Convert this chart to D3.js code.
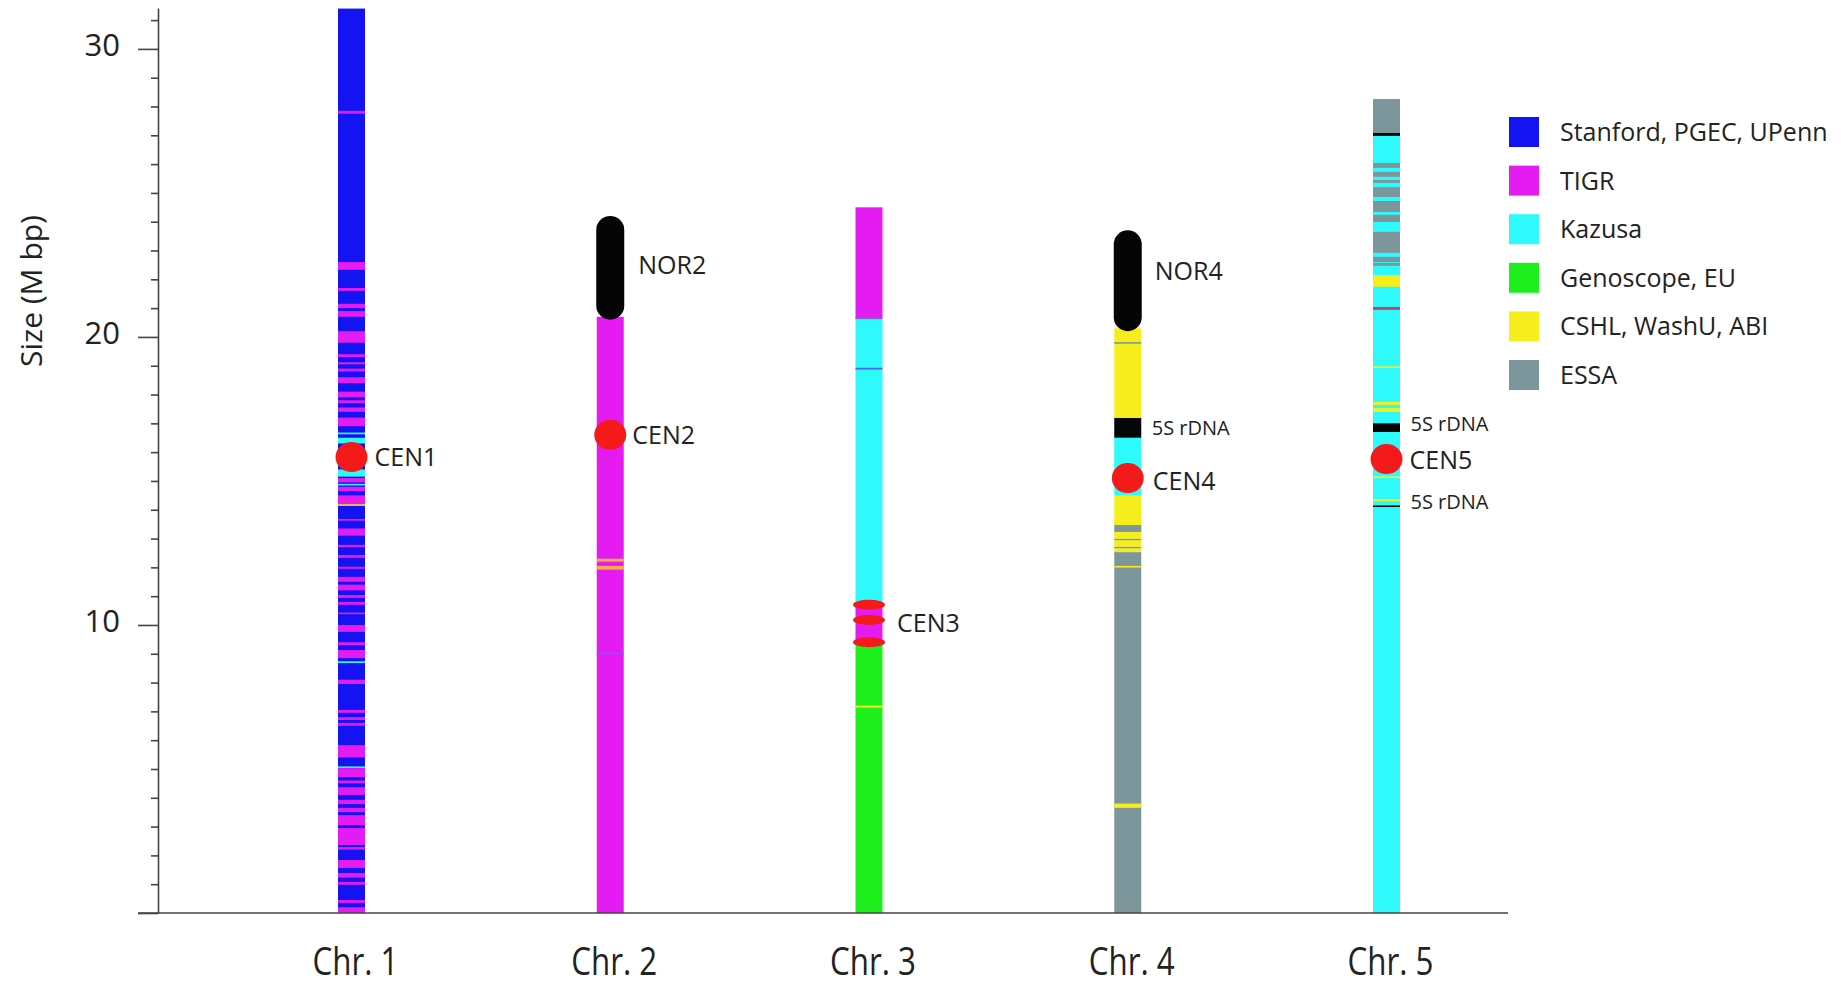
<!DOCTYPE html>
<html>
<head>
<meta charset="utf-8">
<script src="https://cdn.jsdelivr.net/npm/d3@7/dist/d3.min.js"></script>
<style>
  html, body { margin: 0; padding: 0; background: #ffffff; }
  svg { display: block; }
  text { font-family: "Open Sans", "Noto Sans", sans-serif; fill: #222; }
</style>
</head>
<body>
<svg id="chart" width="1841" height="988"></svg>
<script>
// ---------------- DATA ----------------
const categories = ["Chr. 1", "Chr. 2", "Chr. 3", "Chr. 4", "Chr. 5"];

const sources = ["Stanford, PGEC, UPenn", "TIGR", "Kazusa", "Genoscope, EU", "CSHL, WashU, ABI", "ESSA"];
const sourceCodes = ["S", "T", "K", "G", "C", "E"];

const majorTicks = [0, 10, 20, 30];
const minorTicks = [1,2,3,4,5,6,7,8,9,11,12,13,14,15,16,17,18,19,21,22,23,24,25,26,27,28,29,31];

// segments: [start Mb, end Mb, code]
const chr1Segments = [
  [0, 31.4, "S"],
  [27.75, 27.85, "T"], [22.33, 22.6, "T"], [21.6, 21.7, "T"], [21.0, 21.15, "T"],
  [20.7, 20.9, "T"], [19.8, 20.2, "T"], [19.3, 19.4, "T"], [19.05, 19.12, "T"],
  [18.8, 18.9, "T"], [18.4, 18.6, "T"], [17.9, 18.1, "T"], [17.7, 17.8, "T"],
  [17.4, 17.55, "T"], [16.9, 17.2, "T"],
  [16.62, 16.68, "K"], [16.3, 16.5, "K"], [15.15, 15.4, "K"],
  [14.95, 15.1, "T"], [14.85, 14.9, "K"], [14.65, 14.8, "T"], [14.2, 14.5, "T"], [14.13, 14.2, "O"],
  [13.62, 13.68, "T"], [13.1, 13.35, "T"], [12.7, 12.78, "T"], [12.33, 12.43, "T"],
  [11.95, 12.02, "T"], [11.5, 11.67, "T"], [11.2, 11.4, "T"], [10.94, 11.04, "T"],
  [10.7, 10.8, "T"], [10.38, 10.43, "T"], [9.76, 10.0, "T"], [9.3, 9.4, "T"],
  [8.85, 9.13, "T"], [8.68, 8.74, "K"], [7.95, 8.1, "T"],
  [6.95, 7.05, "T"], [6.7, 6.8, "T"], [6.5, 6.6, "T"], [5.4, 5.83, "T"],
  [5.05, 5.09, "K"], [4.72, 5.03, "T"], [4.5, 4.6, "T"], [4.1, 4.37, "T"],
  [3.78, 3.93, "T"], [3.5, 3.65, "T"], [3.05, 3.4, "T"], [2.36, 2.95, "T"],
  [2.2, 2.29, "T"], [1.56, 1.84, "T"], [1.23, 1.39, "T"], [0.98, 1.08, "T"],
  [0.35, 0.45, "T"], [0, 0.2, "T"]
];
const chr2Segments = [
  [0, 20.7, "T"], [12.2, 12.3, "O"], [11.92, 12.05, "O"], [8.98, 9.04, "V"]
];
const chr3Segments = [
  [0, 9.3, "G"], [7.13, 7.2, "C"], [9.3, 10.8, "T"], [10.8, 20.65, "K"],
  [18.87, 18.93, "L"], [20.65, 24.5, "T"], [20.62, 20.68, "V"]
];
const chr4Segments = [
  [0, 12.53, "E"], [3.65, 3.8, "C"], [12.0, 12.05, "C"], [12.53, 12.67, "C"],
  [12.67, 12.72, "E"], [12.72, 12.95, "C"], [12.95, 13.0, "E"], [13.0, 13.23, "C"],
  [13.23, 13.47, "E"], [13.47, 14.5, "C"], [14.5, 16.5, "K"], [16.5, 17.19, "B"],
  [17.19, 20.3, "C"], [19.78, 19.82, "E"]
];
const chr5Segments = [
  [0, 27.08, "K"], [27.08, 28.26, "E"], [26.98, 27.08, "B"],
  [25.87, 26.04, "E"], [25.56, 25.73, "E"], [25.35, 25.45, "E"], [24.86, 25.2, "E"],
  [24.34, 24.72, "E"], [23.99, 24.24, "E"], [22.92, 23.65, "E"], [22.6, 22.78, "E"],
  [22.47, 22.57, "E"], [21.74, 22.15, "C"], [20.94, 21.04, "R"], [18.94, 18.98, "C"],
  [17.64, 17.74, "C"], [17.4, 17.53, "C"], [16.7, 17.0, "B"], [15.1, 15.16, "C"],
  [14.3, 14.37, "C"], [14.1, 14.15, "B"]
];
const chrSegments = [chr1Segments, chr2Segments, chr3Segments, chr4Segments, chr5Segments];

// nucleolus organizer regions
const norChr = ["Chr. 2", "Chr. 4"];
const norStart = [20.6, 20.2];
const norEnd = [24.2, 23.7];

// centromeres
const cenChr = ["Chr. 1", "Chr. 2", "Chr. 4", "Chr. 5"];
const cenPos = [15.83, 16.6, 15.1, 15.76];
const cen3Pos = [10.7, 10.17, 9.4];

// annotation labels
const labelText = ["CEN1", "CEN2", "NOR2", "CEN3", "NOR4", "5S rDNA", "CEN4", "5S rDNA", "CEN5", "5S rDNA"];
const labelChr  = ["Chr. 1", "Chr. 2", "Chr. 2", "Chr. 3", "Chr. 4", "Chr. 4", "Chr. 4", "Chr. 5", "Chr. 5", "Chr. 5"];
const labelPos  = [15.83, 16.6, 22.5, 10.07, 22.3, 16.86, 15.0, 17.0, 15.73, 14.27];

// ---------------- STYLE ----------------
const colorOf = {
  S: "#1414f2", T: "#e41cf2", K: "#2efafc", G: "#1ef01e", C: "#f6ee1c", E: "#7d969c",
  B: "#060606", O: "#f4b040", V: "#8a5ae8", L: "#4a66ea", R: "#c8406e"
};
const labelStyle = {
  "CEN1": {dx: 23, size: 25}, "CEN2": {dx: 22, size: 25}, "NOR2": {dx: 28, size: 25},
  "CEN3": {dx: 28, size: 25}, "NOR4": {dx: 27, size: 25}, "CEN4": {dx: 25, size: 25},
  "CEN5": {dx: 23, size: 25}, "5S rDNA": {dx: 24, size: 20}
};
const barW = 27;

// ---------------- CHART ----------------
const svg = d3.select("#chart");
const y = d3.scaleLinear().domain([0, 31.42]).range([913, 8]);
const x = d3.scalePoint().domain(categories).range([351.5, 1386.5]);

// bars
chrSegments.forEach((segs, i) => {
  const cx = x(categories[i]);
  svg.append("g").selectAll("rect").data(segs).join("rect")
    .attr("x", cx - barW / 2)
    .attr("width", barW)
    .attr("y", d => y(d[1]))
    .attr("height", d => Math.max(1.6, y(d[0]) - y(d[1])))
    .attr("fill", d => colorOf[d[2]]);
});

// NOR regions (rounded black)
svg.append("g").selectAll("rect").data(norChr).join("rect")
  .attr("x", (d) => x(d) - barW / 2 - 0.5)
  .attr("width", barW + 1)
  .attr("y", (d, i) => y(norEnd[i]))
  .attr("height", (d, i) => y(norStart[i]) - y(norEnd[i]))
  .attr("rx", (barW + 1) / 2)
  .attr("fill", "#050505");

// centromeres
svg.append("g").selectAll("ellipse").data(cenChr).join("ellipse")
  .attr("cx", d => x(d))
  .attr("cy", (d, i) => y(cenPos[i]))
  .attr("rx", 16)
  .attr("ry", 15)
  .attr("fill", "#f41a1a");
svg.append("g").selectAll("ellipse").data(cen3Pos).join("ellipse")
  .attr("cx", x("Chr. 3"))
  .attr("cy", d => y(d))
  .attr("rx", 16)
  .attr("ry", 5)
  .attr("fill", "#f41a1a");

// annotation labels
svg.append("g").selectAll("text").data(labelText).join("text")
  .attr("x", (d, i) => x(labelChr[i]) + labelStyle[d].dx)
  .attr("y", (d, i) => y(labelPos[i]))
  .attr("dy", "0.36em")
  .attr("font-size", d => labelStyle[d].size)
  .text(d => d);

// y axis: major
const yMajor = svg.append("g").attr("transform", "translate(158,0)")
  .call(d3.axisLeft(y).tickValues(majorTicks).tickSize(20).tickSizeOuter(0).tickPadding(18)
    .tickFormat(d => d === 0 ? "" : d));
yMajor.select(".domain").attr("stroke", "#444").attr("stroke-width", 1.6);
yMajor.selectAll(".tick line").attr("stroke", "#444").attr("stroke-width", 1.6);
yMajor.selectAll(".tick text").attr("font-size", 31).attr("dy", "0.2em")
  .attr("font-family", "'Open Sans', sans-serif").attr("fill", "#222");

// y axis: minor
const yMinor = svg.append("g").attr("transform", "translate(158,0)")
  .call(d3.axisLeft(y).tickValues(minorTicks).tickSize(7).tickSizeOuter(0).tickFormat(""));
yMinor.select(".domain").remove();
yMinor.selectAll(".tick line").attr("stroke", "#444").attr("stroke-width", 1.6);

// x baseline
svg.append("line")
  .attr("x1", 138).attr("x2", 1508)
  .attr("y1", y(0)).attr("y2", y(0))
  .attr("stroke", "#444").attr("stroke-width", 1.6);

// x category labels
svg.append("g").selectAll("text").data(categories).join("text")
  .attr("x", d => x(d) + 4)
  .attr("y", 975)
  .attr("text-anchor", "middle")
  .attr("font-size", 38)
  .attr("textLength", 86)
  .attr("lengthAdjust", "spacingAndGlyphs")
  .text(d => d);

// y axis title
svg.append("text")
  .attr("transform", "translate(31,291) rotate(-90)")
  .attr("text-anchor", "middle")
  .attr("dy", "0.35em")
  .attr("font-size", 30)
  .text("Size (M bp)");

// legend
const legend = svg.append("g");
legend.selectAll("rect").data(sources).join("rect")
  .attr("x", 1509)
  .attr("y", (d, i) => 117 + i * 48.6)
  .attr("width", 30).attr("height", 30)
  .attr("fill", (d, i) => colorOf[sourceCodes[i]]);
legend.selectAll("text").data(sources).join("text")
  .attr("x", 1560)
  .attr("y", (d, i) => 132 + i * 48.6)
  .attr("dy", "0.36em")
  .attr("font-size", 25)
  .text(d => d);
</script>
</body>
</html>
